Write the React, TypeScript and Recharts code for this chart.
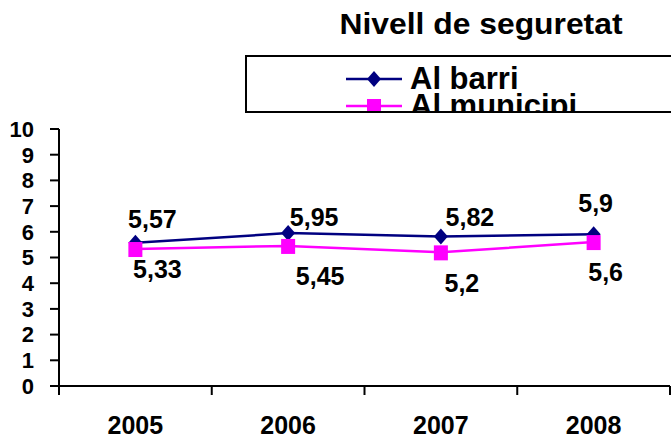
import React from 'react';
import { LineChart, Line, XAxis, YAxis, LabelList } from 'recharts';

const years = ['2005', '2006', '2007', '2008'];
const barri = [5.57, 5.95, 5.82, 5.9];
const municipi = [5.33, 5.45, 5.2, 5.6];
const yTicks = [0, 1, 2, 3, 4, 5, 6, 7, 8, 9, 10];

// hand-placed label offsets, like the original sheet
const barriNudge = [[17, -24], [26, -16], [29, -19], [2, -31]];
const municipiNudge = [[22, 20], [32, 30], [21, 31], [12, 30]];

const data = years.map((year, i) => ({ year, barri: barri[i], municipi: municipi[i] }));

const NAVY = '#000080';
const MAGENTA = '#FF00FF';
const FONT = '"Liberation Sans", Arial, sans-serif';

const W = 671;
const H = 436;
const AXIS_W = 59;
const RIGHT = 1;
const HALF_BAND = (W - AXIS_W - RIGHT) / years.length / 2;

const series = [
  { key: 'barri', name: 'Al barri', color: NAVY },
  { key: 'municipi', name: 'Al municipi', color: MAGENTA },
];

const fmt = (v: number) => String(v).replace('.', ',');

function Diamond({ cx, cy }: any) {
  if (cx == null || cy == null) return null;
  return <path d={`M${cx},${cy - 8} L${cx + 7},${cy} L${cx},${cy + 8} L${cx - 7},${cy} Z`} fill={NAVY} />;
}

function Square({ cx, cy }: any) {
  if (cx == null || cy == null) return null;
  return <rect x={cx - 7} y={cy - 7} width={14} height={15} fill={MAGENTA} />;
}

const makeLabel = (nudge: number[][]) => (props: any) => {
  const { x, y, value, index } = props;
  const [dx, dy] = nudge[index] || [0, 0];
  return (
    <text x={x + dx} y={y + dy} textAnchor="middle" dominantBaseline="central"
      fontFamily={FONT} fontWeight="bold" fontSize={25} fill="#000">
      {fmt(value)}
    </text>
  );
};

function YearTick({ x, y, payload, index }: any) {
  const last = index === years.length - 1;
  return (
    <g>
      <line x1={x - HALF_BAND} y1={y} x2={x - HALF_BAND} y2={y + 9} stroke="#000" strokeWidth={2} />
      {last && <line x1={x + HALF_BAND} y1={y} x2={x + HALF_BAND} y2={y + 9} stroke="#000" strokeWidth={2} />}
      <text x={x} y={y + 48} textAnchor="middle" fontFamily={FONT} fontWeight="bold" fontSize={25} fill="#000">
        {payload.value}
      </text>
    </g>
  );
}

function LegendBox() {
  return (
    <div style={{
      position: 'absolute', left: 245, top: 55, width: 460,
      border: '2px solid #000', height: 46, overflow: 'hidden', background: '#fff',
      boxSizing: 'content-box', paddingTop: 8,
    }}>
      {series.map((s) => (
        <div key={s.key} style={{ display: 'flex', alignItems: 'center', height: 27, marginLeft: 99 }}>
          <svg width={56} height={20} style={{ flex: 'none' }}>
            <line x1={0} y1={10} x2={56} y2={10} stroke={s.color} strokeWidth={2.5} />
            {s.key === 'barri'
              ? <path d="M28,2 L35,10 L28,18 L21,10 Z" fill={NAVY} />
              : <rect x={21} y={3} width={14} height={15} fill={MAGENTA} />}
          </svg>
          <span style={{ marginLeft: 8, fontFamily: FONT, fontWeight: 'bold', fontSize: 31, lineHeight: '27px', color: '#000', whiteSpace: 'nowrap' }}>
            {s.name}
          </span>
        </div>
      ))}
    </div>
  );
}

export default function App() {
  return (
    <div style={{ position: 'absolute', left: 0, top: 0, width: W, height: H, overflow: 'hidden', background: '#fff' }}>
      <svg width={W} height={50} style={{ position: 'absolute', left: 0, top: 0 }}>
        <text x={481} y={34} textAnchor="middle" fontFamily={FONT} fontWeight="bold" fontSize={29}
          textLength={283} lengthAdjust="spacingAndGlyphs" fill="#000">
          Nivell de seguretat
        </text>
      </svg>
      <LegendBox />
      <LineChart width={W} height={H} data={data} margin={{ top: 129, right: RIGHT, left: 0, bottom: 0 }}>
        <XAxis dataKey="year" height={50} tickSize={0} tickMargin={0} tickLine={false}
          padding={{ left: HALF_BAND, right: HALF_BAND }}
          axisLine={{ stroke: '#000', strokeWidth: 2 }} tick={<YearTick />} interval={0} />
        <YAxis width={AXIS_W} domain={[0, 10]} ticks={yTicks} interval={0} tickSize={9} tickMargin={16}
          axisLine={{ stroke: '#000', strokeWidth: 2 }} tickLine={{ stroke: '#000', strokeWidth: 2 }}
          tick={{ fontFamily: FONT, fontWeight: 'bold', fontSize: 22, fill: '#000' }} />
        {series.map((s) => (
          <Line key={s.key} type="linear" dataKey={s.key} name={s.name} stroke={s.color} strokeWidth={2.5}
            dot={s.key === 'barri' ? <Diamond /> : <Square />} activeDot={false} isAnimationActive={false}>
            <LabelList dataKey={s.key} content={makeLabel(s.key === 'barri' ? barriNudge : municipiNudge)} />
          </Line>
        ))}
      </LineChart>
    </div>
  );
}
